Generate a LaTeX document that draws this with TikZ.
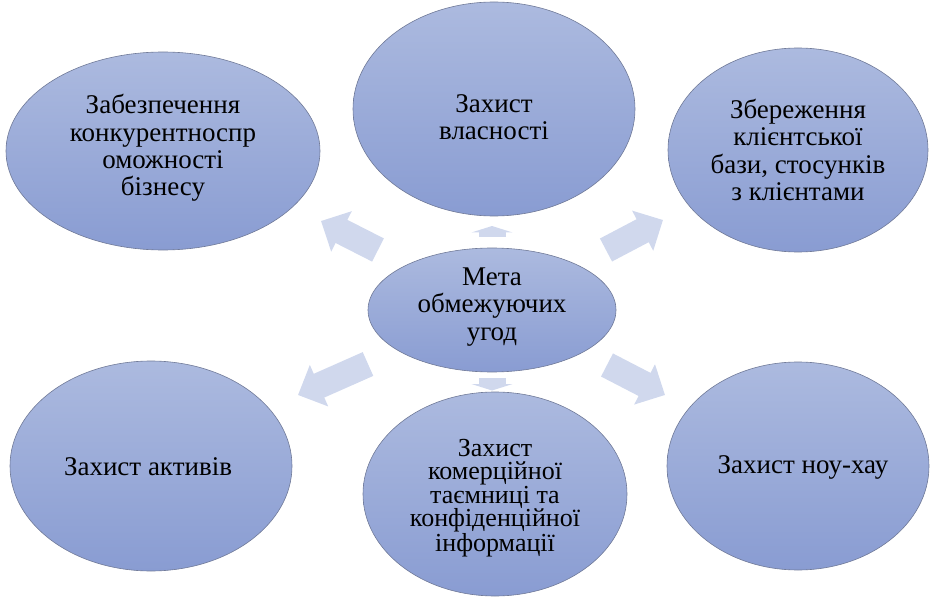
\documentclass[tikz,border=0pt]{standalone}
\usepackage{fontspec}
\setmainfont{Liberation Serif}
\newfontfamily\diagfont{Liberation Serif}
\usetikzlibrary{arrows.meta,shapes.geometric}
\definecolor{elltop}{RGB}{172,186,223}
\definecolor{ellbot}{RGB}{137,156,210}
\definecolor{ellline}{RGB}{112,122,152}
\definecolor{arrowfill}{RGB}{208,216,237}
\tikzset{
  blob/.style={ellipse, draw=ellline, line width=0.6pt, top color=elltop, bottom color=ellbot, inner sep=0pt},
  txt/.style={align=center, inner sep=0pt, text=black, font=\diagfont\fontsize{27}{27.3}\selectfont},
  txtsmall/.style={txt, font=\diagfont\fontsize{26}{23.5}\selectfont},
  blockarrow/.style={draw=arrowfill, fill=arrowfill, line width=26pt, -{Triangle[width=44pt,length=23pt]}},
  smallarrow/.style={draw=arrowfill, fill=arrowfill, line width=27pt, -{Triangle[width=41pt,length=6.5pt]}}
}
\begin{document}
\begin{tikzpicture}[x=1pt,y=-1pt]
\useasboundingbox (0,0) rectangle (930,599);
% arrow end points
\coordinate (atls) at (378,250); \coordinate (atle) at (321,221);
\coordinate (atrs) at (606,250); \coordinate (atre) at (663,220);
\coordinate (abls) at (368,364); \coordinate (able) at (298,395);
\coordinate (abrs) at (607,365); \coordinate (abre) at (665,395);
\coordinate (ats) at (492,237); \coordinate (ate) at (492,226);
\coordinate (abs) at (492,378); \coordinate (abe) at (492,390.5);
\draw[blockarrow] (atls) -- (atle);
\draw[blockarrow] (atrs) -- (atre);
\draw[blockarrow] (abls) -- (able);
\draw[blockarrow] (abrs) -- (abre);
\draw[smallarrow] (ats) -- (ate);
\draw[smallarrow] (abs) -- (abe);
% ellipses
\node[blob, minimum width=314pt, minimum height=198pt] (tl) at (163,151) {};
\node[blob, minimum width=282pt, minimum height=214pt] (top) at (494,109) {};
\node[blob, minimum width=260pt, minimum height=204pt] (tr) at (798,150) {};
\node[blob, minimum width=248pt, minimum height=124pt] (c) at (492,310) {};
\node[blob, minimum width=282pt, minimum height=210pt] (bl) at (151,466) {};
\node[blob, minimum width=264pt, minimum height=204pt] (bc) at (495,494) {};
\node[blob, minimum width=262pt, minimum height=208pt] (br) at (798,466) {};
% texts
\node[txt] (tltext) at (163,148) {Забезпечення\\конкурентноспр\\оможності\\бізнесу};
\node[txt] (toptext) at (494,117) {Захист\\власності};
\node[txt] (trtext) at (798,150) {Збереження\\клієнтської\\бази, стосунків\\з клієнтами};
\node[txt] (ctext) at (492,307) {Мета\\обмежуючих\\угод};
\node[txtsmall] (bctext) at (495,498) {Захист\\комерційної\\таємниці та\\конфіденційної\\інформації};
\node[txt] (bltext) at (148,467) {Захист активів};
\node[txt] (brtext) at (803,467) {Захист ноу-хау};
\end{tikzpicture}
\end{document}
